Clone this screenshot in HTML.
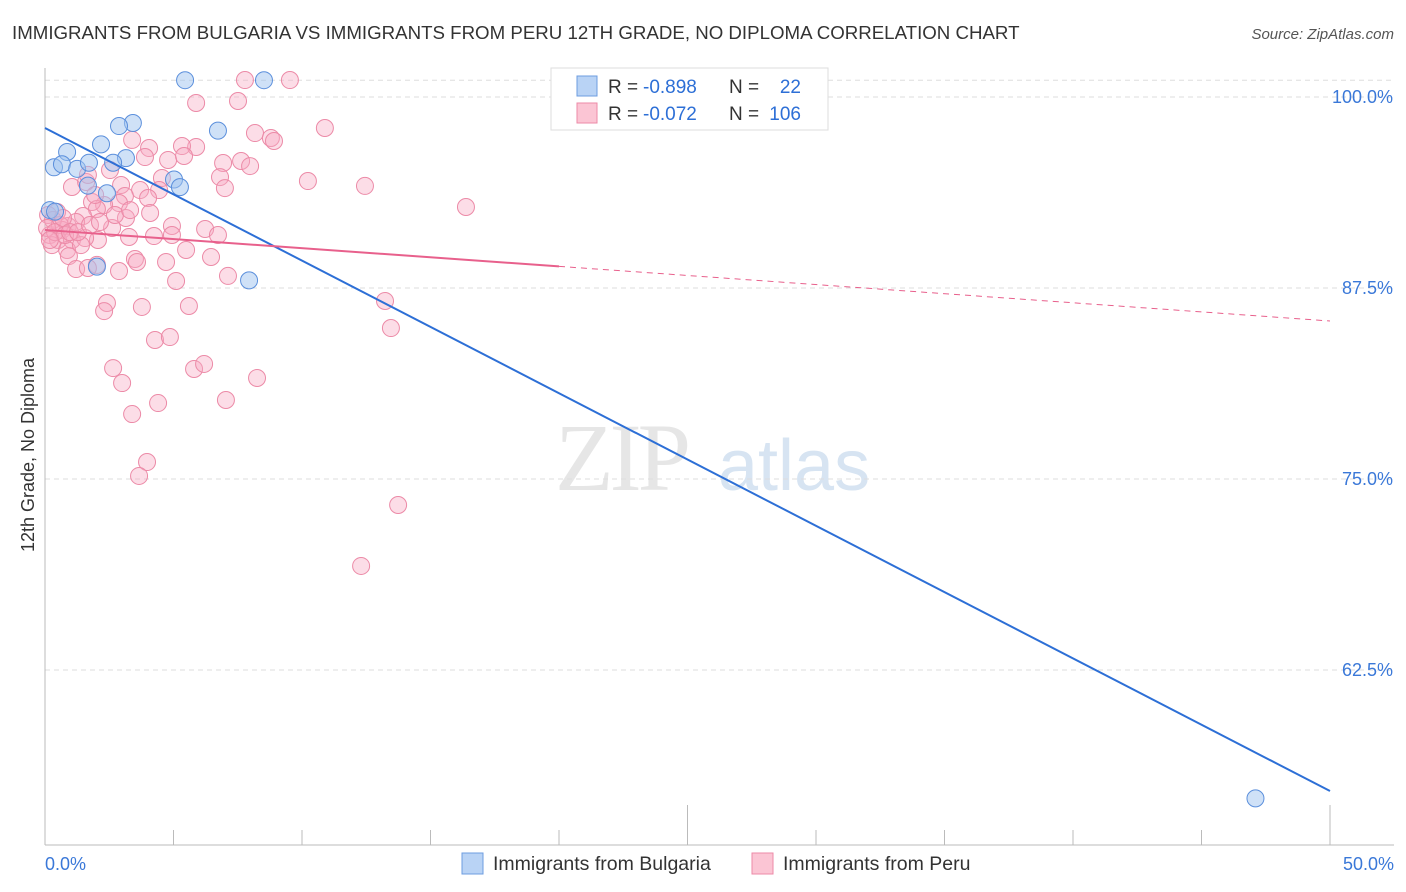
<!DOCTYPE html>
<html><head><meta charset="utf-8">
<style>
body{margin:0;background:#fff;font-family:"Liberation Sans",sans-serif;}
svg{display:block}
</style></head>
<body>
<svg id="chart" width="1406" height="892" viewBox="0 0 1406 892" xmlns="http://www.w3.org/2000/svg">
<text x="12" y="39" font-size="18.7" fill="#333" font-family="Liberation Sans, sans-serif">IMMIGRANTS FROM BULGARIA VS IMMIGRANTS FROM PERU 12TH GRADE, NO DIPLOMA CORRELATION CHART</text>
<text x="1394" y="39" font-size="15" fill="#555" text-anchor="end" font-style="italic">Source: ZipAtlas.com</text>
<g>
<text x="555" y="490" font-size="96" fill="#e6e6e6" font-family="Liberation Serif, serif" letter-spacing="-4">ZIP</text>
<text x="718" y="490" font-size="72" fill="#d7e4f2" font-family="Liberation Sans, sans-serif">atlas</text>
</g>
<g id="grid"></g>
<g id="axes"></g>
<g id="marks"></g>
<text transform="translate(34,455) rotate(-90)" font-size="18" fill="#333" text-anchor="middle">12th Grade, No Diploma</text>
<g>
<rect x="551" y="68" width="277" height="62" fill="#fff" stroke="#ddd"/>
<rect x="577" y="76" width="20" height="20" fill="#b9d3f5" stroke="#6d9de0"/>
<rect x="577" y="103" width="20" height="20" fill="#fbc5d4" stroke="#ec8aa7"/>
<text x="608" y="93" font-size="19" fill="#333">R =</text>
<text x="643" y="93" font-size="19" fill="#2d6fd6">-0.898</text>
<text x="729" y="93" font-size="19" fill="#333">N =</text>
<text x="801" y="93" font-size="19" fill="#2d6fd6" text-anchor="end">22</text>
<text x="608" y="120" font-size="19" fill="#333">R =</text>
<text x="643" y="120" font-size="19" fill="#2d6fd6">-0.072</text>
<text x="729" y="120" font-size="19" fill="#333">N =</text>
<text x="801" y="120" font-size="19" fill="#2d6fd6" text-anchor="end">106</text>
</g>
<g>
<rect x="462" y="853" width="21" height="21" fill="#b9d3f5" stroke="#6d9de0"/>
<text x="493" y="870" font-size="19.5" fill="#333">Immigrants from Bulgaria</text>
<rect x="752" y="853" width="21" height="21" fill="#fbc5d4" stroke="#ec8aa7"/>
<text x="783" y="870" font-size="19.5" fill="#333">Immigrants from Peru</text>
</g>
</svg>
<script>
const yTicks=[100,87.5,75,62.5];
const yTickLabels=["100.0%","87.5%","75.0%","62.5%"];
const xTickLabels=["0.0%","50.0%"];
const bulgariaX=[5.45,8.52,3.42,2.88,6.73,2.18,0.86,3.15,2.65,0.35,0.66,1.25,1.71,2.41,5.02,5.25,1.67,7.94,2.02,0.19,0.39,47.1];
const bulgariaY=[101.1,101.1,98.3,98.1,97.8,96.9,96.4,96.0,95.7,95.4,95.6,95.3,95.7,93.7,94.6,94.1,94.2,88.0,88.9,92.6,92.5,54.1];
const peruX=[7.78,9.53,5.88,7.51,10.89,8.17,8.79,8.91,3.39,4.05,5.88,5.33,3.89,4.79,5.41,7.63,6.93,7.98,2.53,6.81,10.23,12.45,7.00,4.55,4.44,2.96,3.70,1.05,1.60,4.01,3.11,2.88,2.30,1.83,2.02,0.47,16.38,4.09,3.15,1.48,2.61,0.89,1.21,4.94,6.23,6.73,4.24,3.27,4.94,0.66,0.19,0.51,1.05,2.06,1.56,0.27,0.86,1.40,5.49,6.46,3.50,3.58,4.71,0.93,2.02,1.21,1.67,2.88,5.10,7.12,13.23,2.41,5.60,3.77,2.30,13.46,4.28,4.86,2.65,5.80,6.19,8.25,3.00,4.40,7.04,3.39,3.97,3.66,13.74,12.30,0.12,0.31,0.58,0.08,0.39,0.78,0.19,0.70,0.97,1.28,1.75,2.14,2.72,3.31,1.95,1.67];
const peruY=[101.11,101.11,99.61,99.74,97.97,97.64,97.32,97.12,97.19,96.66,96.73,96.79,96.07,95.88,96.14,95.81,95.68,95.48,95.22,94.76,94.50,94.18,94.04,94.70,93.91,94.24,93.91,94.11,94.44,93.39,93.52,93.06,92.93,93.13,92.67,92.47,92.80,92.41,92.08,92.21,91.43,91.56,91.82,91.56,91.36,90.97,90.90,90.84,90.97,91.30,90.97,90.64,90.64,90.64,90.77,90.31,89.99,90.31,89.99,89.53,89.40,89.20,89.20,89.59,89.01,88.74,88.81,88.61,87.96,88.29,86.65,86.52,86.32,86.26,85.99,84.88,84.10,84.29,82.26,82.20,82.53,81.61,81.28,79.97,80.17,79.25,76.11,75.20,73.30,69.31,92.28,91.95,91.62,91.43,91.16,90.97,90.64,92.08,91.16,91.16,91.62,91.82,92.28,92.60,93.59,94.90];
const bulgariaTrend=[97.97,54.58];
const peruTrend=[91.3,85.34];
const NS="http://www.w3.org/2000/svg";
const X=v=>45+v*25.7, Y=v=>97+(100-v)*15.28;
function mk(tag,attrs,parent){const e=document.createElementNS(NS,tag);for(const k in attrs)e.setAttribute(k,attrs[k]);parent.appendChild(e);return e;}
const grid=document.getElementById('grid'),axes=document.getElementById('axes'),marks=document.getElementById('marks');
mk('line',{x1:45,x2:1394,y1:Y(101.1),y2:Y(101.1),stroke:'#ddd','stroke-dasharray':'5,4'},grid);
yTicks.forEach((t,i)=>{
 const l=mk('line',{x1:45,x2:1394,y1:Y(t),y2:Y(t),stroke:'#ddd','stroke-dasharray':'5,4'},grid);
 
 
 const tx=mk('text',{x:1393,y:Y(t)+6,'font-size':18,fill:'#3a78d8','text-anchor':'end'},axes);
 tx.textContent=yTickLabels[i];
 
 
});
mk('line',{x1:45,x2:45,y1:68,y2:845,stroke:'#bbb'},axes);
mk('line',{x1:45,x2:1394,y1:845,y2:845,stroke:'#bbb'},axes);
for(let i=1;i<=10;i++){const x=X(i*5);const tall=(i==5||i==10);
 const t=mk('line',{x1:x,x2:x,y1:tall?805:830,y2:845,stroke:'#bbb'},axes);
 
 }
[[0,'start',45],[50,'end',1394]].forEach((a,i)=>{const tx=mk('text',{x:a[2],y:870,'font-size':18,fill:'#3a78d8','text-anchor':a[1]},axes);tx.textContent=xTickLabels[i];
 
 });
peruX.forEach((v,i)=>{const c=mk('circle',{cx:X(v),cy:Y(peruY[i]),r:8.5,fill:'rgba(248,170,195,0.4)',stroke:'#ec8aa7','stroke-width':1},marks);
 
 });
bulgariaX.forEach((v,i)=>{const c=mk('circle',{cx:X(v),cy:Y(bulgariaY[i]),r:8.5,fill:'rgba(160,195,240,0.5)',stroke:'#5b8fdc','stroke-width':1},marks);
 
 });
const bl=mk('line',{x1:X(0),y1:Y(bulgariaTrend[0]),x2:X(50),y2:Y(bulgariaTrend[1]),stroke:'#2d6fd6','stroke-width':2},marks);


const pm=peruTrend[0]+(peruTrend[1]-peruTrend[0])*20/50;
const pl=mk('line',{x1:X(0),y1:Y(peruTrend[0]),x2:X(20),y2:Y(pm),stroke:'#e8608c','stroke-width':2},marks);


const pd=mk('line',{x1:X(20),y1:Y(pm),x2:X(50),y2:Y(peruTrend[1]),stroke:'#e8608c','stroke-width':1,'stroke-dasharray':'6,5'},marks);


</script>
</body></html>
